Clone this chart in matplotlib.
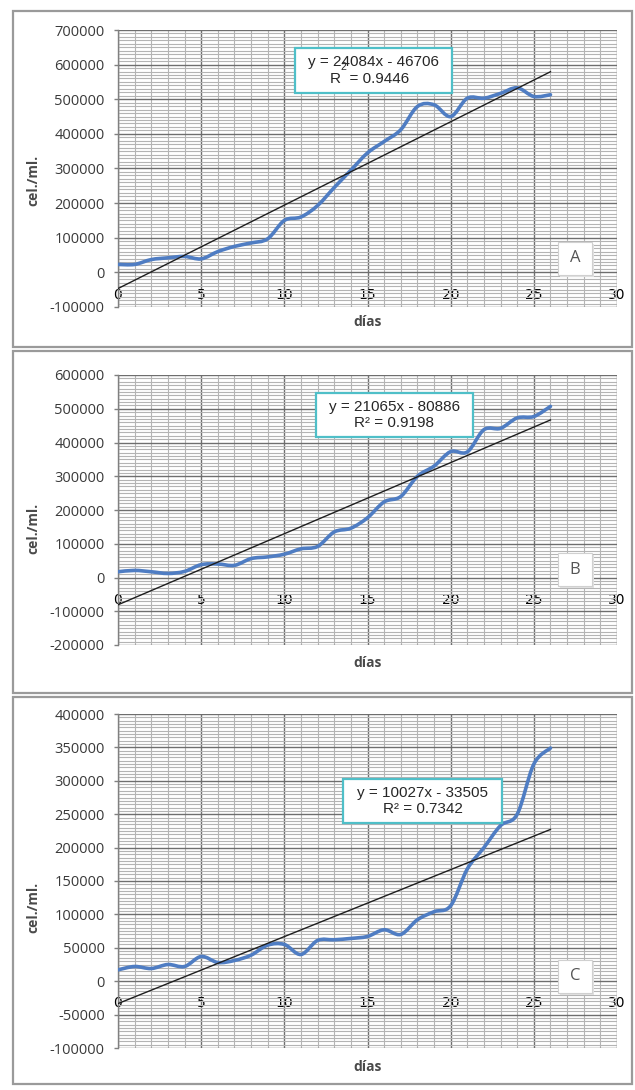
import numpy as np
import matplotlib
matplotlib.use("Agg")
import matplotlib.pyplot as plt
from matplotlib.path import Path
from matplotlib.patches import PathPatch, Rectangle

plt.rcParams["axes.unicode_minus"] = False

# ---- data -------------------------------------------------------------
dias = list(range(27))

cel_a = [23000, 23000, 37000, 42000, 46000, 39000, 60000, 75000, 85000,
         97000, 150000, 160000, 193000, 245000, 295000, 345000, 378000,
         412000, 479000, 484000, 450000, 503000, 503000, 517000, 533000,
         508000, 513000]

cel_b = [17000, 21000, 17000, 12000, 18000, 38000, 40000, 36000, 56000,
         61000, 69000, 85000, 92000, 135000, 146000, 177000, 224000,
         240000, 300000, 330000, 373000, 372000, 438000, 442000, 473000,
         477000, 507000]

cel_c = [17000, 22000, 19000, 25000, 22000, 37000, 28000, 31000, 39000,
         54000, 55000, 40000, 61000, 62000, 64000, 67000, 77000, 70000,
         92000, 104000, 113000, 168000, 200000, 233000, 250000, 325000,
         349000]

paneles = ["A", "B", "C"]
pendientes = [24084, 21065, 10027]
intercepciones = [-46706, -80886, -33505]
r2_textos = ["0.9446", "0.9198", "0.7342"]

y_min = [-100000, -200000, -100000]
y_max = [700000, 600000, 400000]
y_paso = [100000, 100000, 50000]

x_ticks = [0, 5, 10, 15, 20, 25, 30]

# ---- figure geometry (pixels) -----------------------------------------
W, H = 635, 1090
fig = plt.figure(figsize=(W / 100, H / 100), dpi=100)
fig.patch.set_facecolor("white")


def fx(px):
    return px / W


def fy(py):
    return 1 - py / H


def rect_px(x0, y0, w, h, **kw):
    r = Rectangle((fx(x0), fy(y0 + h)), w / W, h / H,
                  transform=fig.transFigure, **kw)
    fig.add_artist(r)
    return r


def smooth_path(x, y):
    x = np.asarray(x, float)
    y = np.asarray(y, float)
    n = len(x)
    verts = [(x[0], y[0])]
    codes = [Path.MOVETO]
    for i in range(n - 1):
        i0 = max(i - 1, 0)
        i3 = min(i + 2, n - 1)
        c1 = (x[i] + (x[i + 1] - x[i0]) / 6, y[i] + (y[i + 1] - y[i0]) / 6)
        c2 = (x[i + 1] - (x[i3] - x[i]) / 6, y[i + 1] - (y[i3] - y[i]) / 6)
        verts += [c1, c2, (x[i + 1], y[i + 1])]
        codes += [Path.CURVE4] * 3
    return Path(verts, codes)


# outer chart frames
marcos = [(13, 11, 619, 336), (13, 351, 619, 342), (13, 697, 619, 387)]
for (x0, y0, w, h) in marcos:
    rect_px(x0, y0, w, h, facecolor="none", edgecolor="#9a9a9a", lw=1.6,
            zorder=0)

# plot areas: left, right, top, bottom
areas = [(118, 617, 30, 307), (118, 617, 375, 645), (118, 617, 714, 1048)]
ylabel_y = [180, 528, 907]
xlabel_y = [322, 663, 1067]
letra_box = [(558, 242), (558, 553), (558, 960)]
eq_box = [(295, 48, 157, 45), (316, 393, 157, 44), (343, 779, 159, 44)]

series = [cel_a, cel_b, cel_c]
tick_font = dict(family="Open Sans", size=10.5)
tick_color = "#3a3a3a"

for k in range(3):
    left, right, top, bottom = areas[k]
    ax = fig.add_axes([fx(left), fy(bottom), (right - left) / W,
                       (bottom - top) / H])
    ax.set_facecolor("white")
    ax.set_xlim(0, 30)
    ax.set_ylim(y_min[k], y_max[k])

    ax.set_xticks(x_ticks)
    ax.set_xticks(range(0, 31), minor=True)
    yt = list(range(y_min[k], y_max[k] + 1, y_paso[k]))
    ax.set_yticks(yt)
    ax.set_yticks(range(y_min[k], y_max[k] + 1, y_paso[k] // 10), minor=True)
    ax.set_yticklabels([str(v) for v in yt], color=tick_color, **tick_font)
    ax.set_xticklabels([str(v) for v in x_ticks], color=tick_color,
                       **tick_font)

    ax.grid(which="minor", color="#b4b4b4", lw=0.8, zorder=0)
    ax.grid(which="major", color="#6e6e6e", lw=1.0, zorder=0.5)
    ax.set_axisbelow(True)

    for s in ["top", "right"]:
        ax.spines[s].set_visible(False)
    ax.spines["left"].set_color("#808080")
    ax.spines["left"].set_linewidth(1.0)
    ax.spines["bottom"].set_position(("data", 0))
    ax.spines["bottom"].set_color("none")

    ax.tick_params(axis="x", which="both", length=0, pad=11)
    ax.tick_params(axis="y", which="major", length=3, width=1,
                   color="#808080", direction="out", pad=6.5)
    ax.tick_params(axis="y", which="minor", length=0)

    # smoothed data curve
    curva = PathPatch(smooth_path(dias, series[k]), facecolor="none",
                      edgecolor="#4f7dc3", lw=2.6, capstyle="round",
                      joinstyle="round", zorder=3)
    ax.add_patch(curva)

    # linear trendline from the stated equation
    xs = np.array([dias[0], dias[-1]], float)
    ax.plot(xs, pendientes[k] * xs + intercepciones[k], color="#1e1e1e",
            lw=1.0, zorder=4)

    # axis titles
    fig.text(fx((left + right) / 2), fy(xlabel_y[k]), "días",
             ha="center", va="center", family="Open Sans",
             fontweight="bold", size=10, color="#4a4a4a")
    fig.text(fx(33), fy(ylabel_y[k]), "cel./ml.", rotation=90,
             ha="center", va="center", family="Open Sans",
             fontweight="bold", size=10, color="#4a4a4a")

    # panel letter
    lx, ly = letra_box[k]
    rect_px(lx + 1.5, ly + 1.5, 34, 33, facecolor="#e0e0e0",
            edgecolor="none", zorder=5)
    rect_px(lx, ly, 34, 33, facecolor="white", edgecolor="#d0d0d0",
            lw=0.8, zorder=6)
    fig.text(fx(lx + 17), fy(ly + 16.5), paneles[k], ha="center",
             va="center", family="Open Sans", size=12, color="#555555",
             zorder=7)

    # trendline equation box
    bx, by, bw, bh = eq_box[k]
    rect_px(bx, by, bw, bh, facecolor="white", edgecolor="#4fbfc8",
            lw=1.6, zorder=6)
    cx = bx + bw / 2
    signo = "-" if intercepciones[k] < 0 else "+"
    linea1 = f"y = {pendientes[k]}x {signo} {abs(intercepciones[k])}"
    fig.text(fx(cx), fy(by + 14), linea1, ha="center", va="center",
             family="Liberation Sans", size=11, color="#262626", zorder=7)
    if k == 0:
        # the squared sign of this label sits up inside the first line
        fig.text(fx(cx - 4), fy(by + 31), f"R  = {r2_textos[k]}",
                 ha="center", va="center", family="Liberation Sans",
                 size=11, color="#262626", zorder=7)
        fig.text(fx(343), fy(by + 19), "2", ha="center", va="center",
                 family="Liberation Sans", size=7.5, color="#262626",
                 zorder=7)
    else:
        fig.text(fx(cx), fy(by + 30), f"R² = {r2_textos[k]}",
                 ha="center", va="center", family="Liberation Sans",
                 size=11, color="#262626", zorder=7)

fig.savefig("out.png", dpi=100, facecolor="white")
